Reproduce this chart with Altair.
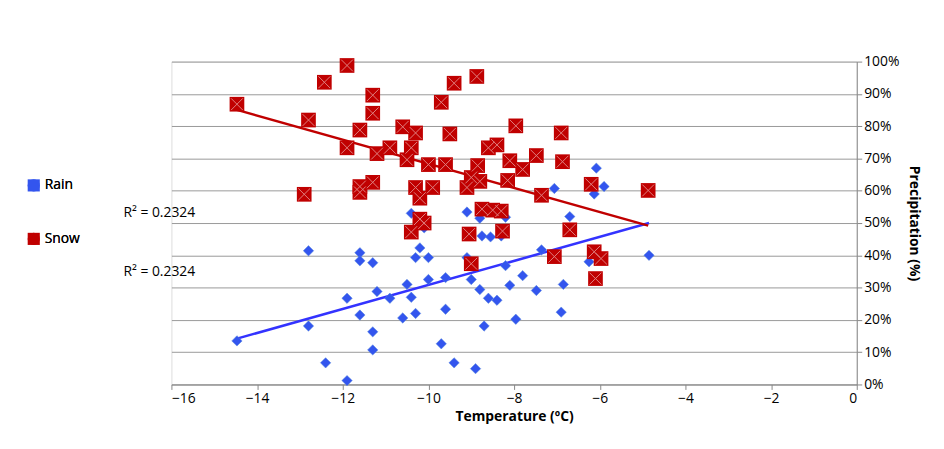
import altair as alt
import pandas as pd

rain_temp = [-14.47, -12.8, -12.8, -12.4, -11.9, -11.9, -11.6, -11.6, -11.6, -11.3, -11.3, -11.3,
             -11.2, -10.9, -10.6, -10.5, -10.4, -10.4, -10.3, -10.3, -10.1, -10.2, -10.0, -10.0,
             -9.7, -9.6, -9.6, -9.4, -9.1, -9.1, -9.0, -9.0, -8.9, -8.8, -8.75, -8.8, -8.7, -8.6,
             -8.55, -8.4, -8.3, -8.2, -8.2, -8.1, -7.96, -7.8, -7.48, -7.36, -7.06, -6.9, -6.85,
             -6.7, -6.08, -6.13, -5.9, -6.25, -4.85]
rain_pct = [13.5, 41.4, 18.1, 6.7, 26.7, 1.2, 40.8, 38.3, 21.5, 37.7, 16.3, 10.7,
            28.8, 26.7, 20.6, 31.0, 53.0, 27.0, 39.3, 22.0, 48.5, 42.3, 39.3, 32.5,
            12.6, 23.3, 33.1, 6.7, 53.4, 39.3, 32.5, 36.8, 4.9, 51.5, 46.0, 29.4, 18.1, 26.7,
            45.7, 26.1, 46.0, 51.8, 36.8, 30.7, 20.2, 33.7, 29.1, 41.7, 60.7, 22.4, 31.0,
            52.0, 67.0, 59.0, 61.3, 38.0, 40.0]

snow_temp = [-14.47, -12.8, -12.9, -12.43, -11.9, -11.9, -11.6, -11.6, -11.6, -11.3, -11.3, -11.3,
             -11.2, -10.9, -10.6, -10.5, -10.4, -10.3, -10.3, -10.4, -10.2, -10.1, -10.2, -10.0,
             -9.9, -9.7, -9.6, -9.5, -9.4, -9.1, -9.0, -9.0, -8.87, -8.85, -8.8, -9.05, -8.75,
             -8.6, -8.5, -8.4, -8.3, -8.27, -8.1, -8.15, -7.96, -7.8, -7.48, -7.36, -7.06, -6.9,
             -6.87, -6.7, -6.2, -6.13, -5.97, -6.1, -4.87]
snow_pct = [86.8, 81.9, 58.9, 93.6, 98.8, 73.3, 78.8, 61.3, 59.5, 89.6, 84.0, 62.6,
            71.5, 73.3, 79.8, 69.6, 73.3, 77.9, 61.0, 47.2, 51.2, 50.0, 57.7, 68.1,
            61.0, 87.4, 68.1, 77.6, 93.3, 61.0, 64.1, 37.4, 95.4, 67.8, 62.9, 46.6, 54.3,
            73.3, 54.0, 74.2, 53.7, 47.5, 69.3, 63.2, 80.1, 66.6, 70.9, 58.6, 39.6, 77.9,
            69.0, 47.9, 62.0, 41.1, 39.0, 32.8, 60.1]

df = pd.concat([
    pd.DataFrame({"temp": rain_temp, "pct": [v / 100 for v in rain_pct], "type": "Rain"}),
    pd.DataFrame({"temp": snow_temp, "pct": [v / 100 for v in snow_pct], "type": "Snow"}),
])

FONT = "Open Sans"
x = alt.X("temp:Q", scale=alt.Scale(domain=[-16, 0], nice=False),
          axis=alt.Axis(values=list(range(-16, 1, 2)), grid=False, title="Temperature (ºC)",
                        titleFontWeight="bold", titleFontSize=14, labelFontSize=14,
                        domainColor="#888", tickColor="#888", labelColor="black", titlePadding=4))
y = alt.Y("pct:Q", scale=alt.Scale(domain=[0, 1], nice=False),
          axis=alt.Axis(orient="right", format="%", values=[i / 10 for i in range(11)],
                        gridColor="#999", domainColor="#888", tickColor="#888",
                        labelFontSize=14, labelColor="black", title="Precipitation (%)",
                        titleFontWeight="bold", titleFontSize=14, titleAngle=90, titlePadding=8))
color = alt.Color("type:N", scale=alt.Scale(domain=["Rain", "Snow"], range=["#3355ee", "#c00000"]),
                  legend=alt.Legend(title=None, orient="none", legendX=-146, legendY=118,
                                    labelFontSize=14, rowPadding=40, symbolSize=150,
                                    labelFont=FONT, symbolStrokeWidth=0))
shape = alt.Shape("type:N", scale=alt.Scale(domain=["Rain", "Snow"], range=["diamond", "square"]),
                  legend=None)

base = alt.Chart(df)
rain_pts = base.transform_filter("datum.type == 'Rain'").mark_point(
    filled=True, size=110, opacity=1, stroke="#5588dd", strokeWidth=0.5
).encode(x=x, y=y, color=color, shape=shape)
snow_pts = base.transform_filter("datum.type == 'Snow'").mark_point(
    filled=True, size=220, opacity=1, shape="square"
).encode(x=x, y=y, color=color)
snow_x = base.transform_filter("datum.type == 'Snow'").mark_point(
    shape="M-0.8,-0.8L0.8,0.8M0.8,-0.8L-0.8,0.8", size=220, stroke="#e08080", strokeWidth=1,
    filled=False, opacity=1
).encode(x=x, y=y)
lines = base.transform_regression("temp", "pct", groupby=["type"]).mark_line(strokeWidth=2.5).encode(
    x=x, y=y,
    color=alt.Color("type:N", scale=alt.Scale(domain=["Rain", "Snow"], range=["#3333ff", "#c00000"]),
                    legend=None))
r2 = alt.Chart(pd.DataFrame({"t": ["R² = 0.2324", "R² = 0.2324"], "yy": [153, 212]})).mark_text(
    align="right", fontSize=14, font=FONT, color="black"
).encode(x=alt.value(24), y=alt.Y("yy:Q", scale=None), text="t:N")

chart = alt.layer(lines, rain_pts, snow_pts, snow_x, r2).resolve_scale(color="independent").properties(
    width=692, height=326, padding={"left": 165, "top": 52, "right": 80, "bottom": 60},
    autosize=alt.AutoSizeParams(type="none")
).configure_view(stroke=None).configure(font=FONT)

chart.save("out.html", embed_options={"renderer": "svg", "actions": False})
